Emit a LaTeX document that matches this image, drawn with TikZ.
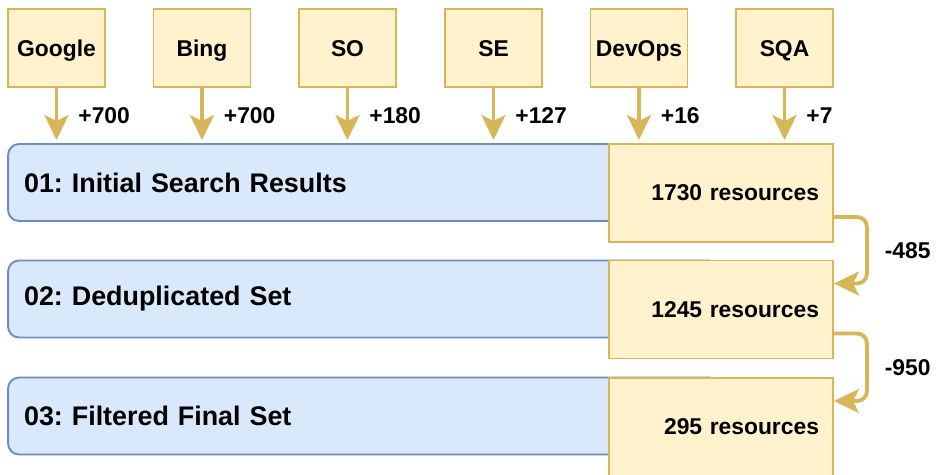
\documentclass[tikz,border=0pt]{standalone}
\usepackage{fontspec}
\setmainfont{Liberation Sans}
\frenchspacing
\usetikzlibrary{arrows.meta,positioning}
\definecolor{srcfill}{HTML}{FFF2CC}
\definecolor{srcline}{HTML}{D6B656}
\definecolor{stagefill}{HTML}{DAE8FC}
\definecolor{stageline}{HTML}{6C8EBF}

\tikzset{
  source/.style={draw=srcline, fill=srcfill, line width=1.1pt, minimum width=1.94cm, minimum height=1.56cm, inner sep=0,
    text height=9.3pt, text depth=0pt, font=\fontsize{13}{15}\selectfont\bfseries},
  stage/.style={draw=stageline, fill=stagefill, line width=1.1pt, rounded corners=0.22cm, minimum height=1.54cm,
    text width=13.6cm, inner xsep=0.32cm, align=left, font=\fontsize{15.3}{18}\selectfont\bfseries},
  count/.style={draw=srcline, fill=srcfill, line width=1.1pt, minimum height=1.96cm,
    text width=3.92cm, inner xsep=0.28cm, align=right, font=\fontsize{13}{15}\selectfont\bfseries},
  flow/.style={draw=srcline, line width=2.2pt, -{Stealth[length=0.5cm,width=0.48cm,inset=0.12cm]}},
  delta/.style={inner sep=0, font=\fontsize{13}{15}\selectfont\bfseries}
}

\begin{document}
\begin{tikzpicture}[x=0.02cm, y=-0.02cm]
    \useasboundingbox (0,0) rectangle (936,474);

    % stages (blue bars)
    \node[stage] (stage1) at (364,182.5) {01: Initial Search Results};
    \node[stage] (stage2) at (364,299) {02: Deduplicated Set};
    \node[stage] (stage3) at (364,416) {03: Filtered Final Set};

    % resource counts
    \node[count] (count1) at (721,193) {1730 resources};
    \node[count] (count2) at (721,309.5) {1245 resources};
    \node[count] (count3) at (721,427) {295 resources};

    % sources
    \node[source] (google) at (56.5,48) {Google};
    \node[source] (bing) at (202,48) {Bing};
    \node[source] (so) at (347.5,48) {SO};
    \node[source] (se) at (493.5,48) {SE};
    \node[source] (devops) at (639,48) {DevOps};
    \node[source] (sqa) at (784.5,48) {SQA};

    % source arrows
    \draw[flow, shorten >=0.06cm] (google.south) -- node[delta, midway, right=0.4cm] {+700} (google.south |- stage1.north);
    \draw[flow, shorten >=0.06cm] (bing.south) -- node[delta, midway, right=0.4cm] {+700} (bing.south |- stage1.north);
    \draw[flow, shorten >=0.06cm] (so.south) -- node[delta, midway, right=0.4cm] {+180} (so.south |- stage1.north);
    \draw[flow, shorten >=0.06cm] (se.south) -- node[delta, midway, right=0.4cm] {+127} (se.south |- stage1.north);
    \draw[flow, shorten >=0.06cm] (devops.south) -- node[delta, midway, right=0.4cm] {+16} (devops.south |- count1.north);
    \draw[flow, shorten >=0.06cm] (sqa.south) -- node[delta, midway, right=0.4cm] {+7} (sqa.south |- count1.north);

    % reductions
    \draw[flow, rounded corners=0.2cm] ([yshift=-0.48cm]count1.east) -- ++(33,0)
        |- node[delta, pos=0.25, right=0.32cm] {-485} ([yshift=0.52cm]count2.east);
    \draw[flow, rounded corners=0.2cm] ([yshift=-0.48cm]count2.east) -- ++(33,0)
        |- node[delta, pos=0.25, right=0.32cm] {-950} ([yshift=0.52cm]count3.east);
\end{tikzpicture}
\end{document}
